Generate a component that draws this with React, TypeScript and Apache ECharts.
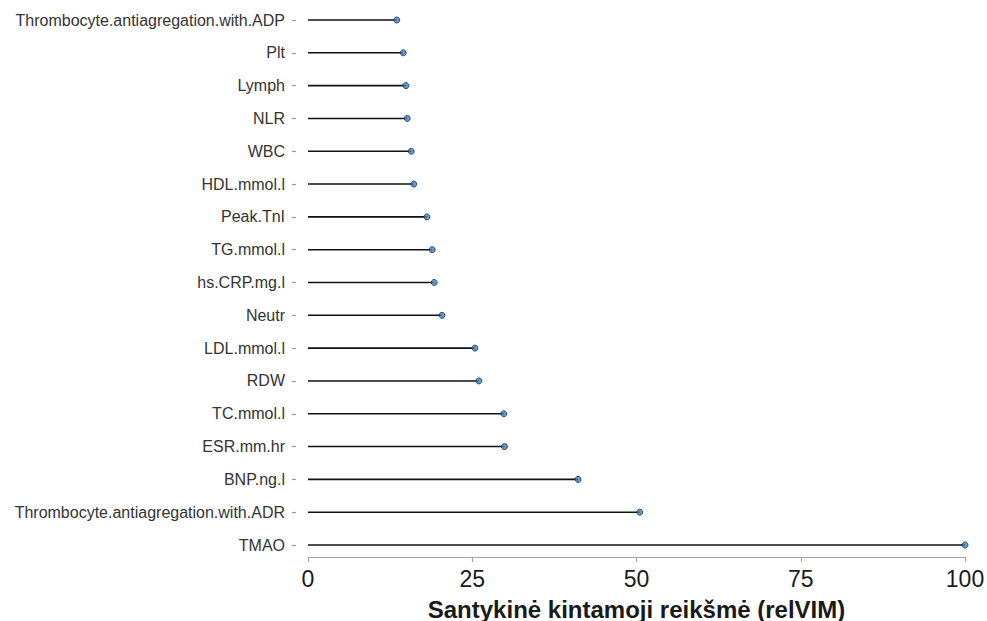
import React, { useEffect, useRef } from "react";
import * as echarts from "echarts";

// Variables ordered from top to bottom
const variables = [
  "Thrombocyte.antiagregation.with.ADP",
  "Plt",
  "Lymph",
  "NLR",
  "WBC",
  "HDL.mmol.l",
  "Peak.TnI",
  "TG.mmol.l",
  "hs.CRP.mg.l",
  "Neutr",
  "LDL.mmol.l",
  "RDW",
  "TC.mmol.l",
  "ESR.mm.hr",
  "BNP.ng.l",
  "Thrombocyte.antiagregation.with.ADR",
  "TMAO",
];

// Relative variable importance (relVIM)
const relVIM = [
  13.5, 14.5, 14.9, 15.1, 15.7, 16.1, 18.1, 18.9, 19.2, 20.4, 25.4, 26.0, 29.8, 29.9, 41.1, 50.5, 100,
];

const xTicks = [0, 25, 50, 75, 100];

export default function App() {
  const ref = useRef<HTMLDivElement>(null);

  useEffect(() => {
    if (!ref.current) return;
    const chart = echarts.init(ref.current, undefined, { renderer: "svg" });
    const font = "'Liberation Sans', Arial, Helvetica, sans-serif";
    chart.setOption({
      animation: false,
      backgroundColor: "#ffffff",
      grid: {
        left: 308,
        right: 22,
        top: 20,
        bottom: 76,
        containLabel: false,
        outerBoundsMode: "none",
      },
      xAxis: {
        type: "value",
        min: xTicks[0],
        max: xTicks[xTicks.length - 1],
        interval: 25,
        offset: 12,
        name: "Santykinė kintamoji reikšmė (relVIM)",
        nameLocation: "middle",
        nameGap: 40,
        nameTextStyle: { fontFamily: font, fontSize: 24, fontWeight: "bold", color: "#1a1a1a" },
        axisLine: { show: true, lineStyle: { color: "#a6a6a6", width: 1.2 } },
        axisTick: { show: true, length: 5, lineStyle: { color: "#a6a6a6", width: 1.2 } },
        axisLabel: { fontFamily: font, fontSize: 23, color: "#1a1a1a", margin: 10 },
        splitLine: { show: false },
      },
      yAxis: {
        type: "category",
        data: variables,
        inverse: true,
        boundaryGap: false,
        offset: 12,
        axisLine: { show: true, onZero: false, lineStyle: { color: "#ffffff", width: 0 } },
        axisTick: { show: true, inside: false, length: 4, lineStyle: { color: "#999999", width: 1.2 } },
        axisLabel: { fontFamily: font, fontSize: 16, color: "#333333", margin: 11 },
        splitLine: { show: false },
      },
      series: [
        {
          type: "bar",
          data: relVIM,
          barWidth: 1.6,
          itemStyle: { color: "#111111" },
          silent: true,
        },
        {
          type: "scatter",
          data: relVIM,
          symbol: "circle",
          symbolSize: 6,
          itemStyle: { color: "#3c80c6", borderColor: "#1b2d3f", borderWidth: 1 },
          silent: true,
        },
      ],
    });
    return () => chart.dispose();
  }, []);

  return <div ref={ref} style={{ width: 987, height: 621, position: "fixed", left: 0, top: 0 }} />;
}
